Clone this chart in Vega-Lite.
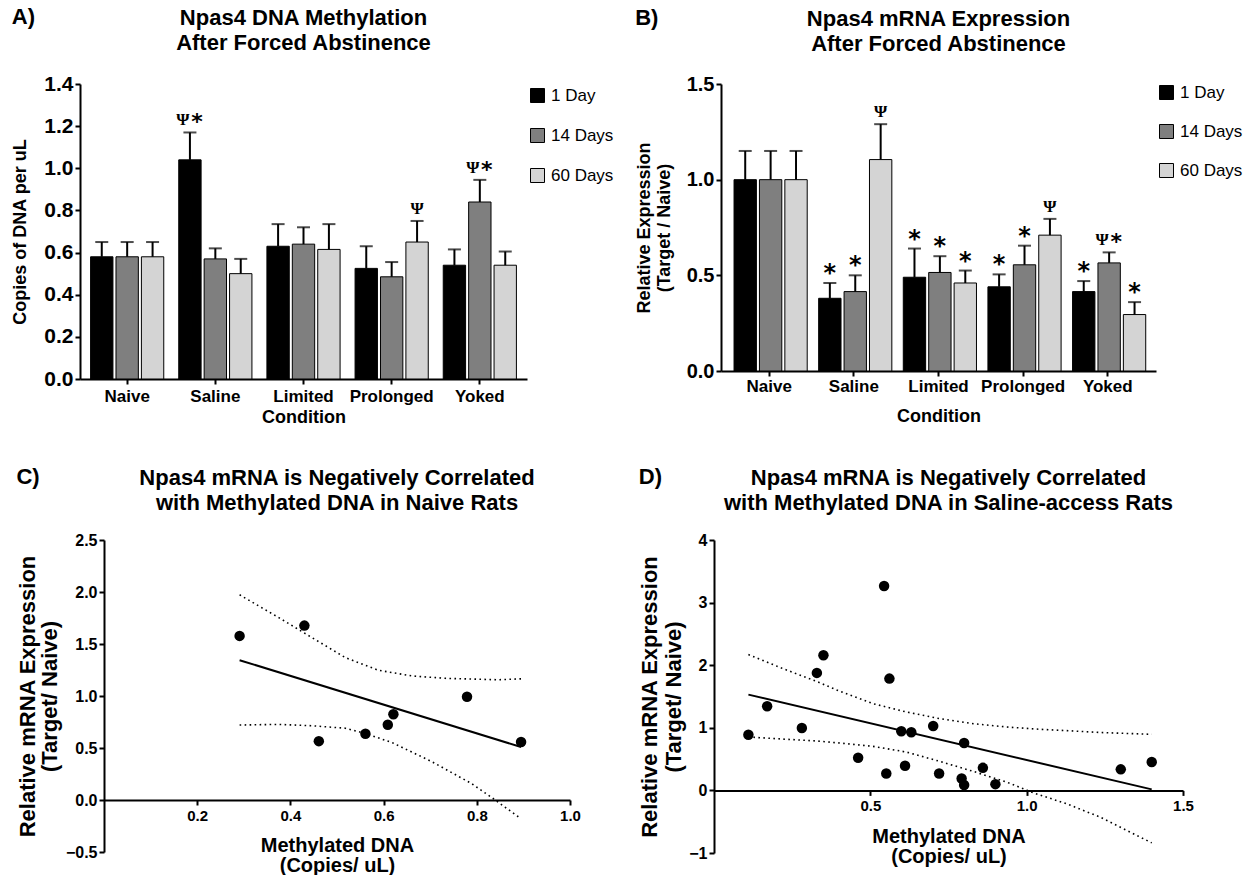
{
 "$schema": "https://vega.github.io/schema/vega-lite/v6.json",
 "background": "white",
 "padding": {"left": 7, "top": 6, "right": 0, "bottom": 0},
 "spacing": 40,
 "resolve": {"scale": {"color": "independent"}},
 "config": {
  "font": "Liberation Sans",
  "view": {"stroke": null},
  "title": {"fontSize": 22, "fontWeight": "bold", "color": "black", "lineHeight": 25, "offset": 20},
  "axis": {"grid": false, "domainColor": "black", "domainWidth": 2, "tickColor": "black", "tickWidth": 2, "tickSize": 5, "labelColor": "black", "labelFontWeight": "bold", "titleColor": "black", "titleFontWeight": "bold", "labelFlush": false, "labelOverlap": false, "labelBound": false, "labelPadding": 2},
  "legend": {"orient": "right", "offset": 2, "padding": 0, "symbolType": "square", "symbolSize": 196, "symbolStrokeColor": "black", "symbolStrokeWidth": 1, "labelFontSize": 17, "labelColor": "black", "labelOffset": 5, "symbolOpacity": 1}
 },
 "datasets": {
  "meth": [
   {"Condition": "Naive", "Time": "1 Day", "value": 0.58, "err": 0.65, "ann": ""},
   {"Condition": "Naive", "Time": "14 Days", "value": 0.58, "err": 0.65, "ann": ""},
   {"Condition": "Naive", "Time": "60 Days", "value": 0.58, "err": 0.65, "ann": ""},
   {"Condition": "Saline", "Time": "1 Day", "value": 1.04, "err": 1.17, "ann": "Ψ*"},
   {"Condition": "Saline", "Time": "14 Days", "value": 0.57, "err": 0.62, "ann": ""},
   {"Condition": "Saline", "Time": "60 Days", "value": 0.5, "err": 0.57, "ann": ""},
   {"Condition": "Limited", "Time": "1 Day", "value": 0.63, "err": 0.735, "ann": ""},
   {"Condition": "Limited", "Time": "14 Days", "value": 0.64, "err": 0.72, "ann": ""},
   {"Condition": "Limited", "Time": "60 Days", "value": 0.615, "err": 0.735, "ann": ""},
   {"Condition": "Prolonged", "Time": "1 Day", "value": 0.525, "err": 0.63, "ann": ""},
   {"Condition": "Prolonged", "Time": "14 Days", "value": 0.485, "err": 0.555, "ann": ""},
   {"Condition": "Prolonged", "Time": "60 Days", "value": 0.65, "err": 0.75, "ann": "Ψ"},
   {"Condition": "Yoked", "Time": "1 Day", "value": 0.54, "err": 0.615, "ann": ""},
   {"Condition": "Yoked", "Time": "14 Days", "value": 0.84, "err": 0.945, "ann": "Ψ*"},
   {"Condition": "Yoked", "Time": "60 Days", "value": 0.54, "err": 0.605, "ann": ""}
  ],
  "expr": [
   {"Condition": "Naive", "Time": "1 Day", "value": 1.0, "err": 1.15, "ann": ""},
   {"Condition": "Naive", "Time": "14 Days", "value": 1.0, "err": 1.15, "ann": ""},
   {"Condition": "Naive", "Time": "60 Days", "value": 1.0, "err": 1.15, "ann": ""},
   {"Condition": "Saline", "Time": "1 Day", "value": 0.38, "err": 0.46, "ann": "*"},
   {"Condition": "Saline", "Time": "14 Days", "value": 0.415, "err": 0.5, "ann": "*"},
   {"Condition": "Saline", "Time": "60 Days", "value": 1.105, "err": 1.29, "ann": "Ψ"},
   {"Condition": "Limited", "Time": "1 Day", "value": 0.49, "err": 0.64, "ann": "*"},
   {"Condition": "Limited", "Time": "14 Days", "value": 0.515, "err": 0.6, "ann": "*"},
   {"Condition": "Limited", "Time": "60 Days", "value": 0.46, "err": 0.525, "ann": "*"},
   {"Condition": "Prolonged", "Time": "1 Day", "value": 0.44, "err": 0.505, "ann": "*"},
   {"Condition": "Prolonged", "Time": "14 Days", "value": 0.555, "err": 0.655, "ann": "*"},
   {"Condition": "Prolonged", "Time": "60 Days", "value": 0.71, "err": 0.795, "ann": "Ψ"},
   {"Condition": "Yoked", "Time": "1 Day", "value": 0.415, "err": 0.47, "ann": "*"},
   {"Condition": "Yoked", "Time": "14 Days", "value": 0.565, "err": 0.62, "ann": "Ψ*"},
   {"Condition": "Yoked", "Time": "60 Days", "value": 0.295, "err": 0.36, "ann": "*"}
  ],
  "naivePts": [
   {"x": 0.291, "y": 1.578}, {"x": 0.43, "y": 1.677}, {"x": 0.461, "y": 0.566}, {"x": 0.561, "y": 0.637},
   {"x": 0.609, "y": 0.724}, {"x": 0.621, "y": 0.824}, {"x": 0.779, "y": 0.993}, {"x": 0.895, "y": 0.557}
  ],
  "naiveFit": [{"x": 0.291, "y": 1.344}, {"x": 0.895, "y": 0.509}],
  "naiveCI": [
   {"bound": "upper", "x": 0.291, "y": 1.973}, {"bound": "upper", "x": 0.375, "y": 1.754}, {"bound": "upper", "x": 0.446, "y": 1.562},
   {"bound": "upper", "x": 0.518, "y": 1.369}, {"bound": "upper", "x": 0.589, "y": 1.247}, {"bound": "upper", "x": 0.661, "y": 1.193},
   {"bound": "upper", "x": 0.732, "y": 1.17}, {"bound": "upper", "x": 0.846, "y": 1.156}, {"bound": "upper", "x": 0.895, "y": 1.165},
   {"bound": "lower", "x": 0.291, "y": 0.721}, {"bound": "lower", "x": 0.375, "y": 0.727}, {"bound": "lower", "x": 0.446, "y": 0.714},
   {"bound": "lower", "x": 0.518, "y": 0.69}, {"bound": "lower", "x": 0.561, "y": 0.64}, {"bound": "lower", "x": 0.619, "y": 0.55},
   {"bound": "lower", "x": 0.703, "y": 0.37}, {"bound": "lower", "x": 0.788, "y": 0.16}, {"bound": "lower", "x": 0.83, "y": 0.03},
   {"bound": "lower", "x": 0.895, "y": -0.18}
  ],
  "salPts": [
   {"x": 0.11, "y": 0.89}, {"x": 0.17, "y": 1.344}, {"x": 0.281, "y": 0.997}, {"x": 0.329, "y": 1.877}, {"x": 0.35, "y": 2.16},
   {"x": 0.461, "y": 0.522}, {"x": 0.544, "y": 3.264}, {"x": 0.551, "y": 0.27}, {"x": 0.561, "y": 1.786}, {"x": 0.599, "y": 0.946},
   {"x": 0.611, "y": 0.395}, {"x": 0.631, "y": 0.93}, {"x": 0.701, "y": 1.03}, {"x": 0.72, "y": 0.27}, {"x": 0.792, "y": 0.19},
   {"x": 0.8, "y": 0.085}, {"x": 0.8, "y": 0.757}, {"x": 0.86, "y": 0.36}, {"x": 0.9, "y": 0.1}, {"x": 1.301, "y": 0.336},
   {"x": 1.4, "y": 0.453}
  ],
  "salFit": [{"x": 0.11, "y": 1.53}, {"x": 1.4, "y": 0.016}],
  "salCI": [
   {"bound": "upper", "x": 0.11, "y": 2.17}, {"bound": "upper", "x": 0.22, "y": 1.946}, {"bound": "upper", "x": 0.327, "y": 1.744},
   {"bound": "upper", "x": 0.402, "y": 1.584}, {"bound": "upper", "x": 0.508, "y": 1.386}, {"bound": "upper", "x": 0.615, "y": 1.253},
   {"bound": "upper", "x": 0.722, "y": 1.146}, {"bound": "upper", "x": 0.829, "y": 1.066}, {"bound": "upper", "x": 0.936, "y": 1.013},
   {"bound": "upper", "x": 1.043, "y": 0.976}, {"bound": "upper", "x": 1.128, "y": 0.955}, {"bound": "upper", "x": 1.235, "y": 0.925},
   {"bound": "upper", "x": 1.4, "y": 0.896},
   {"bound": "lower", "x": 0.11, "y": 0.853}, {"bound": "lower", "x": 0.22, "y": 0.82}, {"bound": "lower", "x": 0.327, "y": 0.79},
   {"bound": "lower", "x": 0.402, "y": 0.757}, {"bound": "lower", "x": 0.508, "y": 0.704}, {"bound": "lower", "x": 0.615, "y": 0.613},
   {"bound": "lower", "x": 0.722, "y": 0.464}, {"bound": "lower", "x": 0.829, "y": 0.304}, {"bound": "lower", "x": 0.936, "y": 0.133},
   {"bound": "lower", "x": 1.021, "y": -0.038}, {"bound": "lower", "x": 1.128, "y": -0.214}, {"bound": "lower", "x": 1.235, "y": -0.427},
   {"bound": "lower", "x": 1.4, "y": -0.838}
  ]
 },
 "vconcat": [
  {
   "spacing": 3,
   "resolve": {"scale": {"color": "independent"}},
   "hconcat": [
    {"width": 1, "height": 1, "data": {"values": []}, "mark": {"type": "point", "opacity": 0}, "encoding": {}},
    {
     "spacing": 18,
     "resolve": {"scale": {"color": "independent"}},
     "hconcat": [
      {
       "title": {"text": "A)", "anchor": "start", "frame": "bounds", "offset": -22},
       "resolve": {"scale": {"color": "independent"}},
       "hconcat": [
        {
         "width": 447,
         "height": 295,
         "title": {"text": ["Npas4 DNA Methylation", "After Forced Abstinence"], "frame": "group", "offset": 18},
         "data": {"name": "meth"},
         "encoding": {
          "x": {"field": "Condition", "type": "nominal", "sort": ["Naive", "Saline", "Limited", "Prolonged", "Yoked"], "scale": {"paddingInner": 0.17, "paddingOuter": 0.12}, "axis": {"labelAngle": 0, "labelFontSize": 17, "titleFontSize": 18, "labelPadding": 4, "titlePadding": 4}, "title": "Condition"},
          "xOffset": {"field": "Time", "type": "nominal", "sort": ["1 Day", "14 Days", "60 Days"], "scale": {"paddingInner": 0.12}}
         },
         "layer": [
          {
           "mark": {"type": "bar", "stroke": "black", "strokeWidth": 1},
           "encoding": {
            "y": {"field": "value", "type": "quantitative", "scale": {"domain": [0, 1.4], "nice": false}, "axis": {"values": [0, 0.2, 0.4, 0.6, 0.8, 1.0, 1.2, 1.4], "format": ".1f", "labelFontSize": 21, "titleFontSize": 18, "titlePadding": 14}, "title": "Copies of DNA per uL"},
            "color": {"field": "Time", "type": "nominal", "sort": ["1 Day", "14 Days", "60 Days"], "scale": {"domain": ["1 Day", "14 Days", "60 Days"], "range": ["#000000", "#7f7f7f", "#d4d4d4"]}, "legend": {"title": null, "rowPadding": 21, "padding": 3, "offset": -1}}
           }
          },
          {
           "mark": {"type": "rule", "color": "black", "strokeWidth": 2},
           "encoding": {"y": {"field": "value", "type": "quantitative", "title": "Copies of DNA per uL"}, "y2": {"field": "err"}}
          },
          {
           "mark": {"type": "tick", "color": "black", "thickness": 2, "size": 13},
           "encoding": {"y": {"field": "err", "type": "quantitative", "title": "Copies of DNA per uL"}}
          },
          {
           "transform": [{"filter": "datum.ann === 'Ψ'"}],
           "mark": {"type": "text", "font": "Liberation Serif", "fontWeight": "bold", "fontSize": 17, "baseline": "alphabetic", "dy": -7, "color": "black"},
           "encoding": {"y": {"field": "err", "type": "quantitative", "title": "Copies of DNA per uL"}, "text": {"field": "ann"}}
          },
          {
           "transform": [{"filter": "datum.ann === 'Ψ*'"}],
           "mark": {"type": "text", "font": "Liberation Serif", "fontWeight": "bold", "fontSize": 17, "baseline": "alphabetic", "dx": -7, "dy": -7, "color": "black"},
           "encoding": {"y": {"field": "err", "type": "quantitative", "title": "Copies of DNA per uL"}, "text": {"value": "Ψ"}}
          },
          {
           "transform": [{"filter": "datum.ann === 'Ψ*'"}],
           "mark": {"type": "text", "font": "DejaVu Sans", "fontWeight": "bold", "fontSize": 22, "baseline": "alphabetic", "dx": 7, "dy": -3, "color": "black"},
           "encoding": {"y": {"field": "err", "type": "quantitative", "title": "Copies of DNA per uL"}, "text": {"value": "*"}}
          }
         ]
        }
       ]
      },
      {
       "title": {"text": "B)", "anchor": "start", "frame": "bounds", "offset": -22},
       "resolve": {"scale": {"color": "independent"}},
       "hconcat": [
        {
         "width": 435,
         "height": 287,
         "title": {"text": ["Npas4 mRNA  Expression", "After Forced Abstinence"], "frame": "group", "offset": 18},
         "data": {"name": "expr"},
         "encoding": {
          "x": {"field": "Condition", "type": "nominal", "sort": ["Naive", "Saline", "Limited", "Prolonged", "Yoked"], "scale": {"paddingInner": 0.168, "paddingOuter": 0.154}, "axis": {"labelAngle": 0, "labelFontSize": 17, "titleFontSize": 18, "labelPadding": 2, "titlePadding": 13}, "title": "Condition"},
          "xOffset": {"field": "Time", "type": "nominal", "sort": ["1 Day", "14 Days", "60 Days"], "scale": {"paddingInner": 0.12}}
         },
         "layer": [
          {
           "mark": {"type": "bar", "stroke": "black", "strokeWidth": 1},
           "encoding": {
            "y": {"field": "value", "type": "quantitative", "scale": {"domain": [0, 1.5], "nice": false}, "axis": {"values": [0, 0.5, 1.0, 1.5], "format": ".1f", "labelFontSize": 20, "titleFontSize": 18, "titleLineHeight": 20, "titlePadding": 13}, "title": ["Relative Expression", "(Target / Naive)"]},
            "color": {"field": "Time", "type": "nominal", "sort": ["1 Day", "14 Days", "60 Days"], "scale": {"domain": ["1 Day", "14 Days", "60 Days"], "range": ["#000000", "#7f7f7f", "#d4d4d4"]}, "legend": {"title": null, "rowPadding": 20}}
           }
          },
          {
           "mark": {"type": "rule", "color": "black", "strokeWidth": 2},
           "encoding": {"y": {"field": "value", "type": "quantitative", "title": ["Relative Expression", "(Target / Naive)"]}, "y2": {"field": "err"}}
          },
          {
           "mark": {"type": "tick", "color": "black", "thickness": 2, "size": 13},
           "encoding": {"y": {"field": "err", "type": "quantitative", "title": ["Relative Expression", "(Target / Naive)"]}}
          },
          {
           "transform": [{"filter": "datum.ann === '*'"}],
           "mark": {"type": "text", "font": "DejaVu Sans", "fontWeight": "bold", "fontSize": 24, "baseline": "alphabetic", "dy": -2, "color": "black"},
           "encoding": {"y": {"field": "err", "type": "quantitative", "title": ["Relative Expression", "(Target / Naive)"]}, "text": {"field": "ann"}}
          },
          {
           "transform": [{"filter": "datum.ann === 'Ψ'"}],
           "mark": {"type": "text", "font": "Liberation Serif", "fontWeight": "bold", "fontSize": 17, "baseline": "alphabetic", "dy": -7, "color": "black"},
           "encoding": {"y": {"field": "err", "type": "quantitative", "title": ["Relative Expression", "(Target / Naive)"]}, "text": {"field": "ann"}}
          },
          {
           "transform": [{"filter": "datum.ann === 'Ψ*'"}],
           "mark": {"type": "text", "font": "Liberation Serif", "fontWeight": "bold", "fontSize": 17, "baseline": "alphabetic", "dx": -7, "dy": -7, "color": "black"},
           "encoding": {"y": {"field": "err", "type": "quantitative", "title": ["Relative Expression", "(Target / Naive)"]}, "text": {"value": "Ψ"}}
          },
          {
           "transform": [{"filter": "datum.ann === 'Ψ*'"}],
           "mark": {"type": "text", "font": "DejaVu Sans", "fontWeight": "bold", "fontSize": 22, "baseline": "alphabetic", "dx": 7, "dy": -3, "color": "black"},
           "encoding": {"y": {"field": "err", "type": "quantitative", "title": ["Relative Expression", "(Target / Naive)"]}, "text": {"value": "*"}}
          }
         ]
        }
       ]
      }
     ]
    }
   ]
  },
  {
   "spacing": 8,
   "hconcat": [
    {"width": 1, "height": 1, "data": {"values": []}, "mark": {"type": "point", "opacity": 0}, "encoding": {}},
    {
     "spacing": 57,
     "hconcat": [
      {
       "title": {"text": "C)", "anchor": "start", "frame": "bounds", "offset": -22},
       "hconcat": [
        {
         "width": 466,
         "height": 312,
         "title": {"text": ["Npas4 mRNA is Negatively Correlated", "with Methylated DNA in Naive Rats"], "frame": "group", "offset": 17},
         "encoding": {
          "x": {"field": "x", "type": "quantitative", "scale": {"domain": [0, 1], "nice": false, "zero": false}, "axis": {"values": [0.2, 0.4, 0.6, 0.8, 1.0], "format": ".1f", "offset": -52, "labelFontSize": 15, "titleFontSize": 20, "titleLineHeight": 20, "titlePadding": 12, "labelPadding": 3}, "title": ["Methylated DNA", "(Copies/ uL)"]},
          "y": {"field": "y", "type": "quantitative", "scale": {"domain": [-0.5, 2.5], "nice": false, "zero": false}, "axis": {"values": [-0.5, 0, 0.5, 1, 1.5, 2, 2.5], "format": ".1f", "labelFontSize": 16, "titleFontSize": 22, "titleLineHeight": 22, "titlePadding": 4}, "title": ["Relative mRNA Expression", "(Target/ Naive)"]}
         },
         "layer": [
          {"data": {"name": "naiveCI"}, "mark": {"type": "line", "color": "black", "strokeWidth": 1.6, "strokeDash": [1.6, 3.4]}, "encoding": {"detail": {"field": "bound", "type": "nominal"}}},
          {"data": {"name": "naiveFit"}, "mark": {"type": "line", "color": "black", "strokeWidth": 2}, "encoding": {}},
          {"data": {"name": "naivePts"}, "mark": {"type": "point", "filled": true, "color": "black", "opacity": 1, "size": 110}, "encoding": {}}
         ]
        }
       ]
      },
      {
       "title": {"text": "D)", "anchor": "start", "frame": "bounds", "offset": -22},
       "hconcat": [
        {
         "width": 469,
         "height": 313,
         "title": {"text": ["Npas4 mRNA is Negatively Correlated", "with Methylated DNA in Saline-access Rats"], "frame": "group", "offset": 17},
         "encoding": {
          "x": {"field": "x", "type": "quantitative", "scale": {"domain": [0, 1.5], "nice": false, "zero": false}, "axis": {"values": [0.5, 1.0, 1.5], "format": ".1f", "offset": -62.6, "labelFontSize": 15, "titleFontSize": 20, "titleLineHeight": 20, "titlePadding": 13, "labelPadding": 3}, "title": ["Methylated DNA", "(Copies/ uL)"]},
          "y": {"field": "y", "type": "quantitative", "scale": {"domain": [-1, 4], "nice": false, "zero": false}, "axis": {"values": [-1, 0, 1, 2, 3, 4], "format": "d", "labelFontSize": 16, "titleFontSize": 22, "titleLineHeight": 24, "titlePadding": 3}, "title": ["Relative mRNA Expression", "(Target/ Naive)"]}
         },
         "layer": [
          {"data": {"name": "salCI"}, "mark": {"type": "line", "color": "black", "strokeWidth": 1.6, "strokeDash": [1.6, 3.4]}, "encoding": {"detail": {"field": "bound", "type": "nominal"}}},
          {"data": {"name": "salFit"}, "mark": {"type": "line", "color": "black", "strokeWidth": 2}, "encoding": {}},
          {"data": {"name": "salPts"}, "mark": {"type": "point", "filled": true, "color": "black", "opacity": 1, "size": 110}, "encoding": {}}
         ]
        }
       ]
      }
     ]
    }
   ]
  }
 ]
}
